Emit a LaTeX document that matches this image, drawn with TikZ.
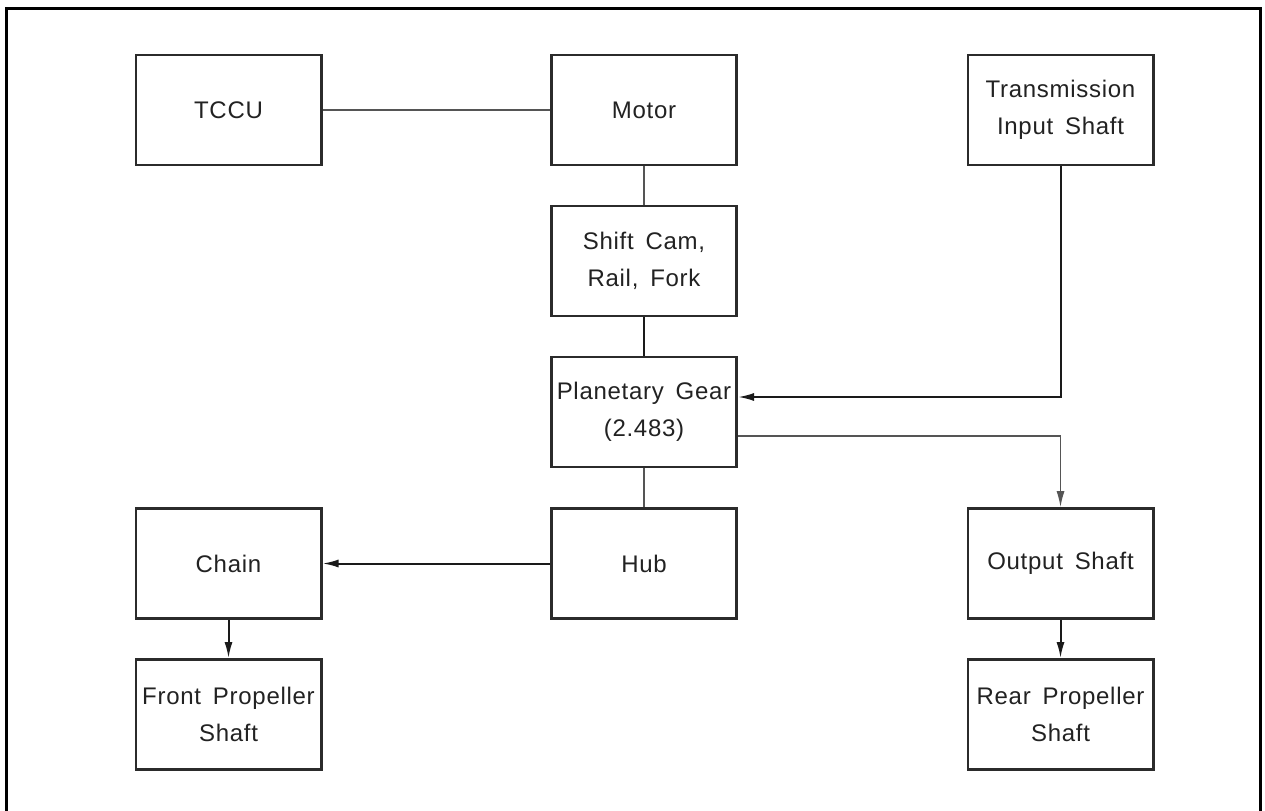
\documentclass[tikz,border=0pt]{standalone}
\usepackage{fontspec}
\setmainfont{Liberation Sans}
\newfontfamily\lblfont[LetterSpace=3,WordSpace=1.6]{Liberation Sans}
\usetikzlibrary{arrows.meta}
\definecolor{boxline}{HTML}{2B2B2B}
\definecolor{thinline}{HTML}{555555}
\definecolor{darkline}{HTML}{1A1A1A}
\definecolor{txt}{HTML}{222222}
\begin{document}
\begin{tikzpicture}[x=0.75pt,y=-0.75pt,
  blk/.style={draw=boxline, line width=2pt, fill=white, minimum width=139pt, minimum height=82.5pt,
    inner sep=0pt, align=center, text=txt, font=\lblfont\fontsize{18}{27.75}\selectfont},
  thin/.style={draw=thinline, line width=1.1pt},
  thick/.style={draw=darkline, line width=1.5pt},
  arr/.style={-{Latex[length=12pt,width=6pt]}}]
\useasboundingbox (0,0) rectangle (1265,811);
\draw[line width=2.6pt] (6.5,811) -- (6.5,8.5) -- (1260.5,8.5) -- (1260.5,811);

\node[blk] (tccu)  at (228.5,110)   {TCCU};
\node[blk] (motor) at (644,110)     {Motor};
\node[blk] (trans) at (1060.5,110)  {Transmission\\Input Shaft};
\node[blk] (shift) at (644,261)     {Shift Cam,\\Rail, Fork};
\node[blk] (plan)  at (644,412)     {Planetary Gear\\(2.483)};
\node[blk] (hub)   at (644,563.5)   {Hub};
\node[blk] (chain) at (228.5,563.5) {Chain};
\node[blk] (front) at (228.5,714.5) {Front Propeller\\Shaft};
\node[blk] (out)   at (1060.5,563.5){Output Shaft};
\node[blk] (rear)  at (1060.5,714.5){Rear Propeller\\Shaft};

\draw[thin] (tccu.east) -- (motor.west);
\draw[thin] (motor.south) -- (shift.north);
\draw[thick] (shift.south) -- (plan.north);
\draw[thick,arr] (trans.south) |- ([yshift=11.25pt]plan.east);
\draw[thin,arr] ([yshift=-18pt]plan.east) -| (out.north);
\draw[thin] (plan.south) -- (hub.north);
\draw[thick,arr] (hub.west) -- (chain.east);
\draw[thick,arr] (chain.south) -- (front.north);
\draw[thick,arr] (out.south) -- (rear.north);
\end{tikzpicture}
\end{document}
